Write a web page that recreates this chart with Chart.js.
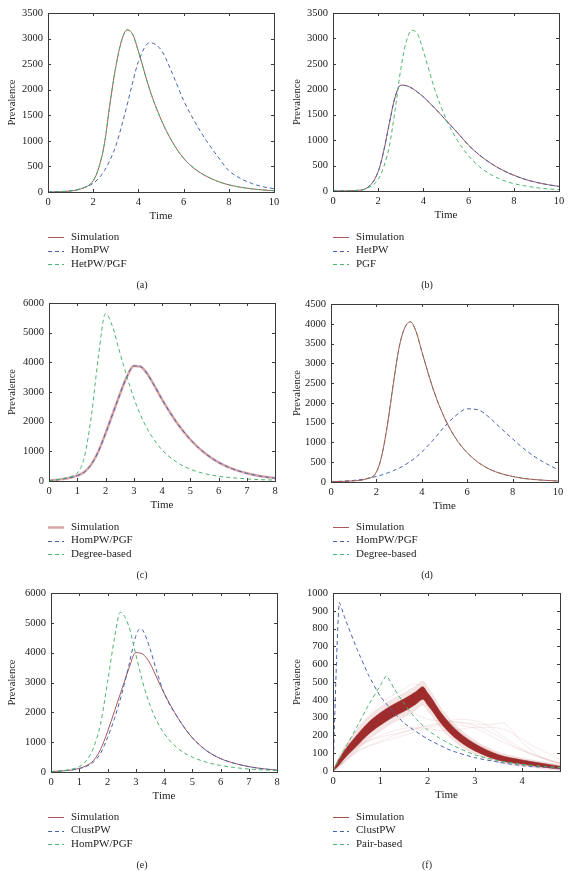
<!DOCTYPE html>
<html>
<head>
<meta charset="utf-8">
<title>Prevalence over time</title>
<script src="https://cdn.jsdelivr.net/npm/chart.js@4.4.1/dist/chart.umd.min.js"></script>
<style>
  body { margin: 0; background: #fff; }
  #page { position: relative; width: 570px; height: 871px; }
  canvas { position: absolute; }
</style>
</head>
<body>
<div id="page">
  <canvas id="chartA" width="285" height="290" style="left:0;top:0"></canvas>
  <canvas id="chartB" width="285" height="290" style="left:285px;top:0"></canvas>
  <canvas id="chartC" width="285" height="290" style="left:0;top:290px"></canvas>
  <canvas id="chartD" width="285" height="290" style="left:285px;top:290px"></canvas>
  <canvas id="chartE" width="285" height="291" style="left:0;top:580px"></canvas>
  <canvas id="chartF" width="285" height="291" style="left:285px;top:580px"></canvas>
</div>
<script>
// ---- data ----

// (a) and (b), (d): time 0..10
const tTen = [0, 0.5, 1, 1.5, 2, 2.25, 2.5, 2.75, 3, 3.25, 3.5, 3.75, 4, 4.5, 5, 5.5, 6, 6.5, 7, 7.5, 8, 8.5, 9, 9.5, 10];
// (c) and (e): time 0..8
const tEight = [0, 0.25, 0.5, 0.75, 1, 1.25, 1.5, 1.75, 2, 2.25, 2.5, 2.75, 3, 3.25, 3.5, 3.75, 4, 4.5, 5, 5.5, 6, 6.5, 7, 7.5, 8];

// (a)
const simA   = [0, 5, 20, 70, 220, 480, 950, 1750, 2450, 2950, 3170, 3080, 2750, 2000, 1420, 980, 660, 450, 310, 210, 140, 95, 62, 40, 25];
const homPwA = [0, 8, 25, 70, 170, 270, 420, 630, 900, 1280, 1700, 2150, 2550, 2920, 2780, 2320, 1790, 1370, 1010, 700, 420, 270, 170, 105, 65];
const hetPwA = [0, 5, 20, 70, 220, 480, 950, 1750, 2450, 2950, 3170, 3080, 2750, 2000, 1420, 980, 660, 450, 310, 210, 140, 95, 62, 40, 25];

// (b)
const simB   = [0, 2, 10, 60, 380, 800, 1350, 1850, 2080, 2070, 2020, 1940, 1850, 1630, 1390, 1150, 900, 700, 540, 410, 310, 230, 170, 125, 90];
const hetPwB = [0, 2, 10, 60, 380, 800, 1350, 1850, 2080, 2070, 2020, 1940, 1850, 1630, 1390, 1150, 900, 700, 540, 410, 310, 230, 170, 125, 90];
const pgfB   = [0, 2, 10, 50, 230, 480, 900, 1600, 2400, 2950, 3160, 3080, 2750, 2000, 1420, 1000, 690, 470, 320, 215, 145, 100, 65, 42, 28];

// (c)
const simC   = [15, 35, 70, 110, 180, 300, 560, 1000, 1600, 2250, 2900, 3500, 3880, 3850, 3580, 3180, 2750, 2000, 1400, 950, 630, 410, 260, 160, 95];
const homPwC = [15, 35, 70, 110, 180, 300, 560, 1000, 1600, 2250, 2900, 3500, 3880, 3850, 3580, 3180, 2750, 2000, 1400, 950, 630, 410, 260, 160, 95];
const degC   = [15, 40, 80, 150, 260, 800, 2200, 4200, 5640, 5200, 4350, 3550, 2800, 2200, 1720, 1350, 1050, 650, 400, 250, 160, 110, 70, 45, 30];

// (d)
const simD   = [10, 15, 30, 70, 250, 700, 1500, 2500, 3400, 3900, 4050, 3800, 3300, 2350, 1620, 1100, 740, 490, 320, 210, 140, 90, 60, 40, 25];
const homPwD = [10, 20, 40, 80, 140, 180, 230, 290, 350, 430, 520, 630, 760, 1060, 1400, 1680, 1850, 1820, 1620, 1350, 1090, 840, 630, 460, 310];
const degD   = [10, 15, 30, 70, 250, 700, 1500, 2500, 3400, 3900, 4050, 3800, 3300, 2350, 1620, 1100, 740, 490, 320, 210, 140, 90, 60, 40, 25];

// (e)
const simE    = [15, 25, 45, 70, 120, 210, 380, 750, 1350, 2050, 2750, 3450, 4000, 3950, 3650, 3150, 2650, 1800, 1150, 720, 450, 290, 180, 110, 60];
const tClustE = [0, 0.25, 0.5, 0.75, 1, 1.25, 1.5, 1.75, 2, 2.25, 2.5, 2.75, 3, 3.15, 3.25, 3.5, 3.75, 4, 4.5, 5, 5.5, 6, 6.5, 7, 7.5, 8];
const clustE  = [15, 25, 45, 70, 115, 190, 330, 620, 1150, 1800, 2600, 3550, 4550, 4800, 4750, 4150, 3350, 2650, 1800, 1150, 720, 450, 290, 180, 110, 60];
const tHomE   = [0, 0.25, 0.5, 0.75, 1, 1.25, 1.5, 1.75, 2, 2.25, 2.45, 2.75, 3, 3.25, 3.5, 3.75, 4, 4.5, 5, 5.5, 6, 6.5, 7, 7.5, 8];
const homE    = [15, 30, 55, 100, 180, 380, 800, 1600, 3000, 4500, 5350, 4900, 3950, 3000, 2250, 1700, 1300, 780, 500, 330, 220, 150, 100, 70, 50];

// (f)
const tBandF   = [0, 0.1, 0.25, 0.5, 0.75, 1, 1.25, 1.5, 1.75, 1.9, 2.0, 2.1, 2.25, 2.5, 2.75, 3, 3.5, 4, 4.5, 4.8];
const bandHiF  = [0, 55, 117, 200, 273, 327, 370, 405, 445, 473, 439, 403, 340, 259, 198, 153, 91, 62, 40, 27];
const bandLoF  = [0, 25, 73, 140, 207, 257, 300, 335, 375, 403, 371, 337, 280, 205, 152, 113, 61, 38, 20, 11];
const haloHiF  = [0, 68, 137, 227, 303, 359, 402, 437, 477, 505, 470, 433, 367, 283, 219, 171, 105, 73, 49, 34];
const haloLoF  = [0, 12, 53, 113, 177, 225, 268, 303, 343, 371, 340, 307, 253, 181, 131, 95, 47, 27, 11, 4];
const tClustF  = [0, 0.13, 0.25, 0.5, 0.75, 1, 1.25, 1.5, 2, 2.5, 3, 3.5, 4, 4.5, 4.8];
const clustF   = [0, 945, 860, 690, 540, 420, 340, 270, 180, 115, 75, 50, 30, 20, 15];
const tPairF   = [0, 0.25, 0.5, 0.75, 1, 1.13, 1.3, 1.5, 1.75, 2, 2.25, 2.5, 3, 3.5, 4, 4.5, 4.8];
const pairF    = [0, 125, 245, 370, 480, 535, 460, 380, 295, 230, 185, 148, 90, 58, 38, 25, 20];
// a few stray simulation runs
const runTimesF = [
  [0, 0.5, 1, 1.5, 2, 2.5, 3, 3.3, 3.6, 3.75, 4, 4.4, 4.8],
  [0, 0.5, 1, 1.5, 2, 2.5, 3, 3.5, 4, 4.5, 4.8],
  [0, 0.5, 1, 1.5, 2, 2.5, 2.8, 3.2, 3.6, 4, 4.5, 4.8],
  [0, 0.5, 1, 1.5, 1.7, 1.9, 2.2, 2.6, 3, 3.5, 4, 4.8],
  [0, 0.5, 1, 1.5, 2, 2.4, 3, 3.5, 4, 4.8],
  [0, 0.6, 1.2, 1.8, 2.4, 3, 3.6, 4.2, 4.8]
];
const runValuesF = [
  [0, 130, 200, 240, 250, 275, 265, 260, 270, 240, 160, 80, 40],
  [0, 110, 160, 200, 240, 260, 240, 175, 115, 65, 40],
  [0, 140, 190, 220, 255, 285, 290, 265, 195, 125, 65, 45],
  [0, 230, 380, 460, 490, 470, 340, 240, 160, 95, 60, 28],
  [0, 150, 260, 340, 290, 280, 255, 195, 115, 45],
  [0, 120, 190, 240, 225, 245, 235, 145, 65]
];

// ---- styling ----
const RED = '#a8585a';
const PINK = '#dba5a5';
const BLUE = '#4b62ad';
const GREEN = '#4db46f';
const DARKRED = '#9e2c2c';
const DASH = [4, 3];
const FONT = "'Liberation Serif', 'DejaVu Serif', serif";

function pts(ts, vs) {
  return ts.map((t, i) => ({ x: t, y: vs[i] }));
}

function line(label, ts, vs, color, dashed, order, extra) {
  return Object.assign({
    label: label,
    data: pts(ts, vs),
    borderColor: color,
    borderWidth: 1,
    borderDash: dashed ? DASH : [],
    pointRadius: 0,
    cubicInterpolationMode: 'monotone',
    fill: false,
    order: order
  }, extra || {});
}

// frame, inward tick marks, legend underneath and the panel caption
const decorations = {
  id: 'decorations',
  afterDatasetsDraw(chart) {
    const { ctx, chartArea: a, scales } = chart;
    ctx.save();
    ctx.strokeStyle = '#3a3a3a';
    ctx.lineWidth = 1;
    ctx.strokeRect(Math.round(a.left) + 0.5, Math.round(a.top) + 0.5,
      Math.round(a.right - a.left), Math.round(a.bottom - a.top));
    const len = 3;
    ctx.beginPath();
    scales.x.ticks.forEach(t => {
      const px = Math.round(scales.x.getPixelForValue(t.value)) + 0.5;
      ctx.moveTo(px, a.bottom); ctx.lineTo(px, a.bottom - len);
      ctx.moveTo(px, a.top); ctx.lineTo(px, a.top + len);
    });
    scales.y.ticks.forEach(t => {
      const py = Math.round(scales.y.getPixelForValue(t.value)) + 0.5;
      ctx.moveTo(a.left, py); ctx.lineTo(a.left + len, py);
      ctx.moveTo(a.right, py); ctx.lineTo(a.right - len, py);
    });
    ctx.stroke();
    ctx.restore();
  },
  afterDraw(chart) {
    const ctx = chart.ctx;
    const opts = chart.options.plugins.decorations;
    ctx.save();
    ctx.font = '11px ' + FONT;
    ctx.fillStyle = '#222';
    ctx.textBaseline = 'middle';
    let row = 0;
    chart.data.datasets.forEach(ds => {
      if (ds.legendSkip) return;
      const y = opts.legendTop + row * 13.5;
      ctx.beginPath();
      ctx.strokeStyle = ds.legendColor || ds.borderColor;
      ctx.lineWidth = ds.legendWidth || ds.borderWidth;
      ctx.setLineDash(ds.borderDash || []);
      ctx.moveTo(48, Math.round(y) + 0.5);
      ctx.lineTo(64, Math.round(y) + 0.5);
      ctx.stroke();
      ctx.setLineDash([]);
      ctx.fillText(ds.label, 71, y);
      row++;
    });
    ctx.font = '10px ' + FONT;
    ctx.textAlign = 'center';
    ctx.fillText(opts.caption, 142, opts.captionY);
    ctx.restore();
  }
};

function makePanel(id, p) {
  const canvas = document.getElementById(id);
  const W = canvas.width, H = canvas.height;
  const [left, top, right, bottom] = p.area;
  const xAxisHeight = 35;
  new Chart(canvas, {
    type: 'line',
    data: { datasets: p.datasets },
    options: {
      responsive: false,
      animation: false,
      events: [],
      layout: { padding: { left: 0, top: top, right: W - right, bottom: H - bottom - xAxisHeight } },
      scales: {
        x: {
          type: 'linear',
          min: 0, max: p.xMax,
          grid: { display: false, drawTicks: false },
          border: { display: false },
          ticks: { stepSize: p.xStep, includeBounds: false, padding: 4, color: '#222', font: { family: FONT, size: 10.5 } },
          title: { display: true, text: 'Time', color: '#222', padding: { top: 2, bottom: 4 }, font: { family: FONT, size: 11 } },
          afterFit(scale) { scale.height = xAxisHeight; }
        },
        y: {
          min: 0, max: p.yMax,
          grid: { display: false, drawTicks: false },
          border: { display: false },
          ticks: { stepSize: p.yStep, padding: 5, color: '#222', format: { useGrouping: false }, font: { family: FONT, size: 10.5 } },
          title: { display: true, text: 'Prevalence', color: '#222', padding: { top: 6, bottom: 2 }, font: { family: FONT, size: 10.5 } },
          afterFit(scale) { scale.width = left; }
        }
      },
      plugins: {
        legend: { display: false },
        tooltip: { enabled: false },
        decorations: { caption: p.caption, legendTop: 237, captionY: 285 }
      }
    },
    plugins: [decorations]
  });
}

// stray runs for panel (f)
const runDatasetsF = runTimesF.map((ts, i) => line('run ' + (i + 1), ts, runValuesF[i], 'rgba(170,50,50,0.1)', false, 9, { legendSkip: true, cubicInterpolationMode: 'default', tension: 0.3 }));

makePanel('chartA', {
  caption: '(a)', xMax: 10, xStep: 2, yMax: 3500, yStep: 500, area: [48, 13, 274, 192],
  datasets: [
    line('Simulation', tTen, simA, RED, false, 2),
    line('HomPW', tTen, homPwA, BLUE, true, 1),
    line('HetPW/PGF', tTen, hetPwA, GREEN, true, 0)
  ]
});

makePanel('chartB', {
  caption: '(b)', xMax: 10, xStep: 2, yMax: 3500, yStep: 500, area: [48, 13, 274, 191],
  datasets: [
    line('Simulation', tTen, simB, RED, false, 2),
    line('HetPW', tTen, hetPwB, BLUE, true, 1),
    line('PGF', tTen, pgfB, GREEN, true, 0)
  ]
});

makePanel('chartC', {
  caption: '(c)', xMax: 8, xStep: 1, yMax: 6000, yStep: 1000, area: [49, 13, 275, 191],
  datasets: [
    line('Simulation', tEight, simC, PINK, false, 2, { borderWidth: 2.5 }),
    line('HomPW/PGF', tEight, homPwC, BLUE, true, 1),
    line('Degree-based', tEight, degC, GREEN, true, 0)
  ]
});

makePanel('chartD', {
  caption: '(d)', xMax: 10, xStep: 2, yMax: 4500, yStep: 500, area: [46, 14, 273, 192],
  datasets: [
    line('Simulation', tTen, simD, RED, false, 0),
    line('HomPW/PGF', tTen, homPwD, BLUE, true, 1),
    line('Degree-based', tTen, degD, GREEN, true, 2)
  ]
});

makePanel('chartE', {
  caption: '(e)', xMax: 8, xStep: 1, yMax: 6000, yStep: 1000, area: [51, 13, 277, 192],
  datasets: [
    line('Simulation', tEight, simE, RED, false, 2),
    line('ClustPW', tClustE, clustE, BLUE, true, 1),
    line('HomPW/PGF', tHomE, homE, GREEN, true, 0)
  ]
});

makePanel('chartF', {
  caption: '(f)', xMax: 4.8, xStep: 1, yMax: 1000, yStep: 100, area: [48, 13, 275, 191],
  datasets: [
    line('Simulation', tBandF, bandHiF, 'rgba(158,44,44,0.6)', false, 3, { fill: '+1', backgroundColor: DARKRED, legendColor: '#a34a4a' }),
    line('band low', tBandF, bandLoF, 'rgba(158,44,44,0.6)', false, 3, { legendSkip: true }),
    line('ClustPW', tClustF, clustF, BLUE, true, 1, { cubicInterpolationMode: 'default', tension: 0.2 }),
    line('Pair-based', tPairF, pairF, GREEN, true, 0, { cubicInterpolationMode: 'default', tension: 0.15 }),
    line('halo high', tBandF, haloHiF, 'rgba(170,50,50,0.08)', false, 5, { legendSkip: true, fill: '+1', backgroundColor: 'rgba(170,50,50,0.12)' }),
    line('halo low', tBandF, haloLoF, 'rgba(170,50,50,0.08)', false, 5, { legendSkip: true })
  ].concat(runDatasetsF)
});
</script>
</body>
</html>
